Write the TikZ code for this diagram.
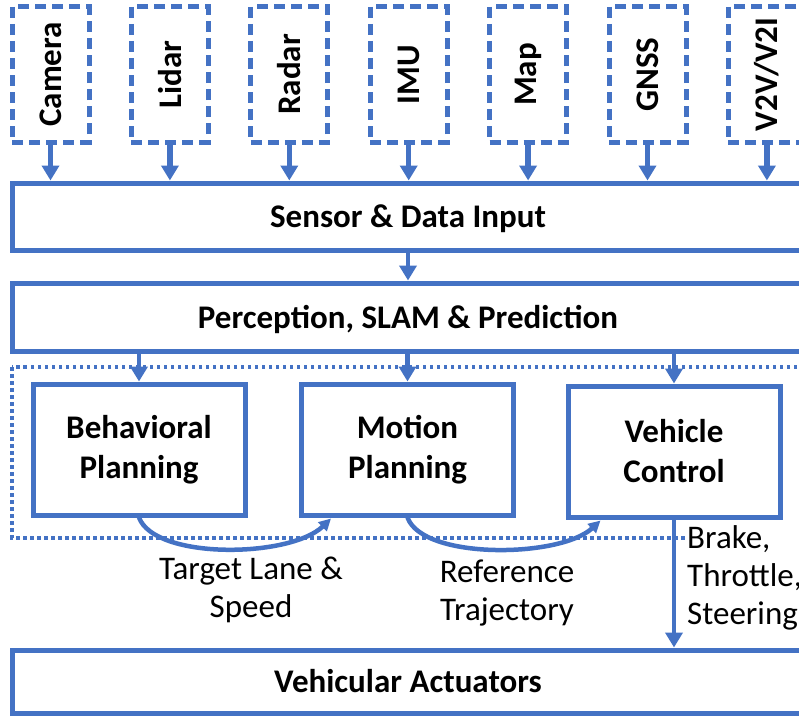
\documentclass[tikz,border=0pt]{standalone}
\usepackage{fontspec}
\setmainfont{Carlito}
\usetikzlibrary{arrows.meta,calc}
\definecolor{ob}{HTML}{4472C4}
\begin{document}
\begin{tikzpicture}[x=1pt,y=-1pt,
  sensorbox/.style={draw=ob, line width=5pt, dash pattern=on 11pt off 6pt, minimum width=77pt, minimum height=135pt, inner sep=0pt, font=\fontsize{33}{40}\selectfont\bfseries},
  wide/.style={draw=ob, line width=5pt, minimum width=792pt, inner sep=0pt, text height=22pt, text depth=0pt, font=\fontsize{33}{40}\selectfont\bfseries},
  block/.style={draw=ob, line width=5pt, minimum width=212pt, minimum height=131pt, inner sep=0pt, align=center, font=\fontsize{33}{40}\selectfont\bfseries},
  lbl/.style={font=\fontsize{33}{38}\selectfont, inner sep=0pt},
  arr/.style={draw=ob, line width=4.5pt, -{Triangle[width=17pt,length=15pt]}},
  darr/.style={arr, line width=5.5pt, dash pattern=on 21pt off 3pt},
  carr/.style={draw=ob, line width=4.5pt, -{Triangle[width=12pt,length=12pt]}},
]
\clip (0,0) rectangle (799,717);
\fill[white] (0,0) rectangle (799,717);
% sensors
\foreach \n/\t [count=\i from 0] in {cam/Camera, lid/Lidar, rad/Radar, imu/IMU, map/Map, gnss/GNSS, vv/{V2V/V2I}}
  \node[sensorbox] (\n) at (50.5+119.4*\i, 74.5) {\rotatebox{90}{\t}};
% wide boxes
\node[wide, minimum height=67pt] (sdi) at (408,216.5) {Sensor \& Data Input};
\node[wide, minimum height=68pt] (perc) at (408,317) {Perception, SLAM \& Prediction};
\node[wide, minimum height=63pt] (act) at (408,681.5) {Vehicular Actuators};
% dotted container
\draw[ob, line width=3.5pt, dash pattern=on 3.5pt off 3.5pt] (12,367) rectangle (804,538);
% planning blocks
\node[block] (bp) at (139,449.5) {Behavioral\\Planning};
\node[block] (mp) at (407.5,449.5) {Motion\\Planning};
\node[block] (vc) at (674,451.5) {Vehicle\\Control};
% sensor arrows
\foreach \n in {cam, lid, rad, imu, map, gnss, vv}
  \draw[darr] (\n.south) -- (\n.south |- sdi.north);
\draw[arr] (sdi.south) -- (sdi.south |- perc.north);
\foreach \n in {bp, mp, vc}
  \draw[arr] (\n.north |- perc.south) -- (\n.north);
% labels
\node[lbl, align=center] (tl) at (251,590) {Target Lane \&\\Speed};
\node[lbl, align=center] (rt) at (507,593) {Reference\\Trajectory};
\node[lbl, align=left, anchor=west, fill=white] (bts) at (687,578) {Brake,\\Throttle,\\Steering};
% curved arrows
\coordinate (e1) at ($(mp.south west)+(32,1)$);
\coordinate (e2) at ($(vc.south west)+(35,1)$);
\draw[carr] (bp.south) .. controls (155,560) and (290,558) .. (e1);
\draw[carr] (mp.south) .. controls (423,560) and (560,558) .. (e2);
\draw[arr] (vc.south) -- (vc.south |- act.north);
\end{tikzpicture}
\end{document}
